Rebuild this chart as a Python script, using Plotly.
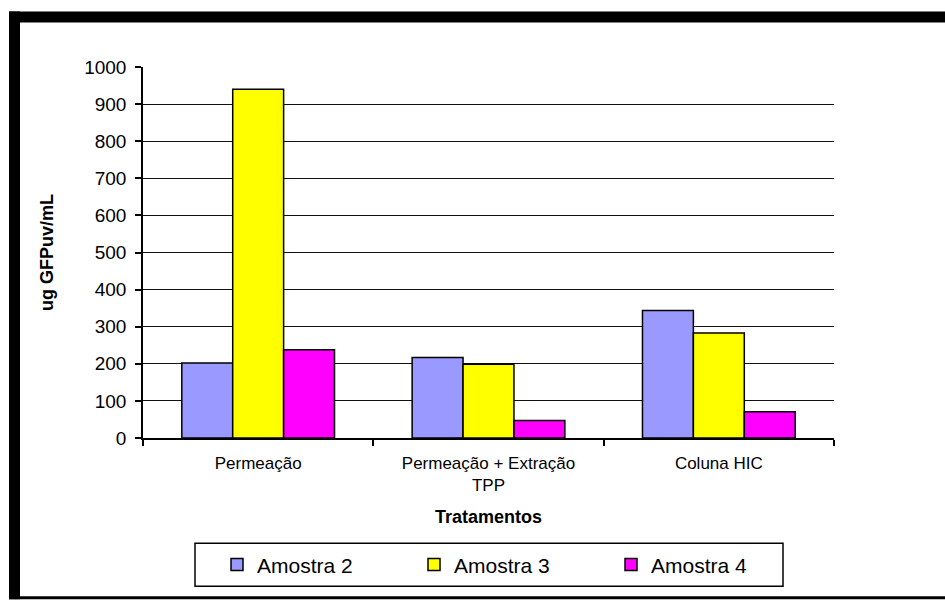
import plotly.graph_objects as go

# Treatments (x categories) and measured GFPuv concentration per sample
tratamentos = ["Permeação", "Permeação + Extração<br>TPP", "Coluna HIC"]
amostra_2 = [202, 217, 344]
amostra_3 = [940, 199, 283]
amostra_4 = [238, 47, 71]

series_names = ["Amostra 2", "Amostra 3", "Amostra 4"]
series_colors = ["#9999FF", "#FFFF00", "#FF00FF"]
y_ticks = list(range(0, 1001, 100))

W, H = 945, 600
L, R, T, B = 143, 834, 66.7, 438.5  # plot area in pixels


def px_x(px):
    return (px - L) / (R - L)


def px_y(py):
    return (B - py) / (B - T)


FONT = "Arial, Liberation Sans, sans-serif"

fig = go.Figure()
for name, vals, col in zip(series_names, [amostra_2, amostra_3, amostra_4], series_colors):
    fig.add_trace(go.Bar(
        x=tratamentos, y=vals, name=name,
        marker=dict(color=col, line=dict(color="#000000", width=1.5)),
    ))

# thick black frame on top, left and bottom edges
frame = [
    (9, 11, W, 22),
    (9, 11, 20, H),
    (9, 597, W, H),
]
shapes = [
    dict(type="rect", xref="paper", yref="paper",
         x0=px_x(x0), x1=px_x(x1), y0=px_y(y1), y1=px_y(y0),
         fillcolor="#000000", line=dict(width=0), layer="above")
    for x0, y0, x1, y1 in frame
]
# box around the legend
shapes.append(dict(
    type="rect", xref="paper", yref="paper",
    x0=px_x(195), x1=px_x(783), y0=px_y(587), y1=px_y(544),
    line=dict(color="#000000", width=1.5), fillcolor="rgba(0,0,0,0)", layer="above",
))

fig.update_layout(
    width=W, height=H,
    margin=dict(l=L, r=W - R, t=T, b=H - B, pad=0, autoexpand=False),
    paper_bgcolor="#FFFFFF", plot_bgcolor="#FFFFFF",
    font=dict(family=FONT, color="#000000", size=17),
    barmode="group", bargap=0.337, bargroupgap=0,
    showlegend=True,
    legend=dict(
        orientation="h", x=px_x(217), y=px_y(545), xanchor="left", yanchor="top",
        borderwidth=0, bgcolor="rgba(0,0,0,0)",
        font=dict(size=21, family=FONT),
        entrywidth=152, entrywidthmode="pixels",
        tracegroupgap=0,
    ),
    shapes=shapes,
    xaxis=dict(
        showline=True, linecolor="#000000", linewidth=1.5,
        ticks="outside", tickson="boundaries", ticklen=6, tickcolor="#000000", tickwidth=1.5,
        tickfont=dict(size=17), ticklabelstandoff=9, showgrid=False,
        title=dict(text="<b>Tratamentos</b>", font=dict(size=18), standoff=16),
    ),
    yaxis=dict(
        range=[0, 1000], tickvals=y_ticks,
        showline=True, linecolor="#000000", linewidth=1.5,
        ticks="outside", ticklen=6, tickcolor="#000000", tickwidth=1.5,
        tickfont=dict(size=19), ticklabelstandoff=5,
        showgrid=True, gridcolor="#111111", gridwidth=1.3, zeroline=False,
        title=dict(text="<b>ug GFPuv/mL</b>", font=dict(size=18), standoff=26),
    ),
)

fig.write_html("out.html")
